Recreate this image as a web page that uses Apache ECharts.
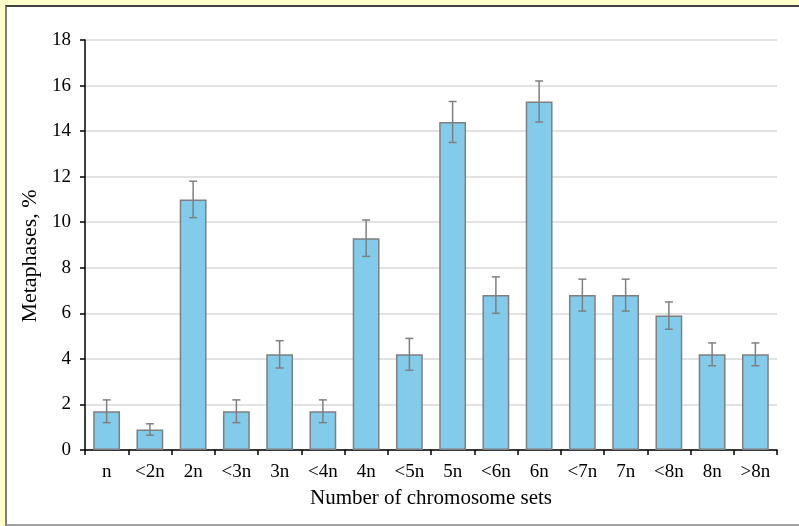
<!DOCTYPE html>
<html>
<head>
<meta charset="utf-8">
<script src="https://cdn.jsdelivr.net/npm/echarts@6/dist/echarts.min.js"></script>
<style>
html,body{margin:0;padding:0;background:#FFFFCC;width:799px;height:526px;overflow:hidden;}
#frame{position:absolute;left:5px;top:5px;width:800px;height:517px;background:#fff;border-top:2px solid #404040;border-left:2px solid #7f7f7f;border-bottom:2px solid #a0a0a0;}
#chart{position:absolute;left:0;top:0;width:799px;height:526px;}
</style>
</head>
<body>
<div id="frame"></div>
<div id="chart"></div>
<script>
const categories = ['n','<2n','2n','<3n','3n','<4n','4n','<5n','5n','<6n','6n','<7n','7n','<8n','8n','>8n'];
const values = [1.7, 0.9, 11.0, 1.7, 4.2, 1.7, 9.3, 4.2, 14.4, 6.8, 15.3, 6.8, 6.8, 5.9, 4.2, 4.2];
const errors = [0.5, 0.25, 0.8, 0.5, 0.6, 0.5, 0.8, 0.7, 0.9, 0.8, 0.9, 0.7, 0.7, 0.6, 0.5, 0.5];
const yTicks = {min: 0, max: 18, interval: 2};

const font = '"Liberation Serif", "Times New Roman", serif';
const chart = echarts.init(document.getElementById('chart'), null, {renderer: 'canvas'});

const errData = values.map((v, i) => [i, v - errors[i], v + errors[i]]);

chart.setOption({
  backgroundColor: 'transparent',
  animation: false,
  grid: {left: 85, top: 40, right: 22, bottom: 76, containLabel: false},
  xAxis: {
    type: 'category',
    data: categories,
    name: 'Number of chromosome sets',
    nameLocation: 'middle',
    nameGap: 38,
    nameTextStyle: {fontFamily: font, fontSize: 21, color: '#000'},
    axisLine: {lineStyle: {color: '#000', width: 1.5}},
    axisTick: {show: true, length: 5, lineStyle: {color: '#000', width: 1.5}},
    axisLabel: {fontFamily: font, fontSize: 19, color: '#000', margin: 13},
    splitLine: {show: false}
  },
  yAxis: {
    type: 'value',
    min: yTicks.min, max: yTicks.max, interval: yTicks.interval,
    name: 'Metaphases, %',
    nameLocation: 'middle',
    nameGap: 43,
    nameTextStyle: {fontFamily: font, fontSize: 22, color: '#000', padding: [0, 22, 0, 0]},
    axisLine: {show: true, lineStyle: {color: '#000', width: 1.5}},
    axisTick: {show: true, length: 5, lineStyle: {color: '#000', width: 1.5}},
    axisLabel: {fontFamily: font, fontSize: 19, color: '#000', margin: 14},
    splitLine: {show: true, lineStyle: {color: '#d9d9d9', width: 1.5}}
  },
  series: [
    {
      type: 'bar',
      data: values,
      barWidth: '62%',
      itemStyle: {color: '#83CBEB', borderColor: '#7f7f7f', borderWidth: 1.5}
    },
    {
      type: 'custom',
      data: errData,
      z: 10,
      renderItem: function (params, api) {
        const x = api.value(0);
        const lo = api.coord([x, api.value(1)]);
        const hi = api.coord([x, api.value(2)]);
        const cap = 4;
        const style = {stroke: '#7f7f7f', lineWidth: 1.5};
        return {
          type: 'group',
          children: [
            {type: 'line', shape: {x1: lo[0], y1: lo[1], x2: hi[0], y2: hi[1]}, style: style},
            {type: 'line', shape: {x1: hi[0] - cap, y1: hi[1], x2: hi[0] + cap, y2: hi[1]}, style: style},
            {type: 'line', shape: {x1: lo[0] - cap, y1: lo[1], x2: lo[0] + cap, y2: lo[1]}, style: style}
          ]
        };
      }
    }
  ]
});
</script>
</body>
</html>
